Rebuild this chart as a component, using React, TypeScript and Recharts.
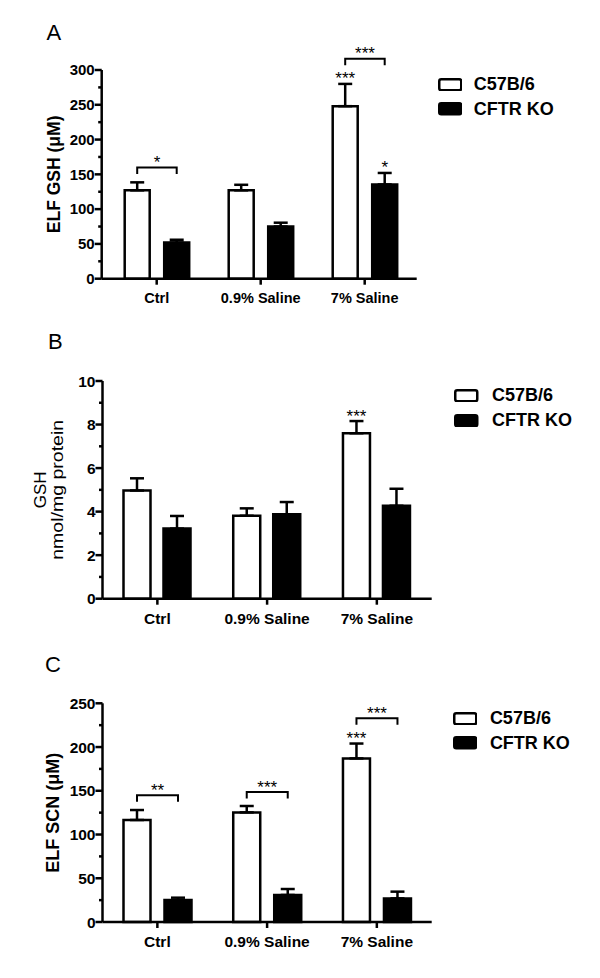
import React from 'react';
import { BarChart, Bar, XAxis, YAxis, ErrorBar, LabelList, Legend } from 'recharts';

const FONT = '"Liberation Sans", Arial, Helvetica, sans-serif';

const categories = ['Ctrl', '0.9% Saline', '7% Saline'];
const seriesNames = ['C57B/6', 'CFTR KO'];

// Panel A: ELF GSH (uM)
const elfGshWT = [127, 127, 248];
const elfGshWTSem = [11.5, 8, 32];
const elfGshKO = [52, 75, 135.5];
const elfGshKOSem = [4, 5.5, 16.5];
const elfGshWTStars = ['', '', '***'];
const elfGshKOStars = ['', '', '*'];
const elfGshBracketLevels: (number | null)[] = [160, null, 316];
const elfGshBracketStars = ['*', '', '***'];
const elfGshTicks = [0, 25, 50, 75, 100, 125, 150, 175, 200, 225, 250, 275, 300];
const elfGshMajor = [0, 50, 100, 150, 200, 250, 300];

// Panel B: GSH nmol/mg protein
const tisGshWT = [4.97, 3.81, 7.6];
const tisGshWTSem = [0.56, 0.34, 0.56];
const tisGshKO = [3.22, 3.88, 4.27];
const tisGshKOSem = [0.58, 0.56, 0.78];
const tisGshWTStars = ['', '', '***'];
const tisGshKOStars = ['', '', ''];
const tisGshBracketLevels: (number | null)[] = [null, null, null];
const tisGshBracketStars = ['', '', ''];
const tisGshTicks = [0, 1, 2, 3, 4, 5, 6, 7, 8, 9, 10];
const tisGshMajor = [0, 2, 4, 6, 8, 10];

// Panel C: ELF SCN (uM)
const elfScnWT = [116.6, 125.3, 187];
const elfScnWTSem = [11.4, 7.3, 17];
const elfScnKO = [25.1, 30.9, 27];
const elfScnKOSem = [2.7, 6.8, 7.7];
const elfScnWTStars = ['', '', '***'];
const elfScnKOStars = ['', '', ''];
const elfScnBracketLevels: (number | null)[] = [145, 148.6, 232.8];
const elfScnBracketStars = ['**', '***', '***'];
const elfScnTicks = [0, 25, 50, 75, 100, 125, 150, 175, 200, 225, 250];
const elfScnMajor = [0, 50, 100, 150, 200, 250];

type Cfg = {
  id: string;
  letter: string;
  letterX: number;
  letterY: number;
  top: number;
  height: number;
  plotLeft: number;
  plotRight: number;
  plotTop: number;
  plotBottom: number;
  xPadLeft: number;
  domain: [number, number];
  ticks: number[];
  majors: number[];
  wt: number[];
  wtSem: number[];
  ko: number[];
  koSem: number[];
  wtStars: string[];
  koStars: string[];
  bracketLevels: (number | null)[];
  bracketStars: string[];
  yLabel: string[];
  yLabelX: number[];
  yLabelLen: (number | null)[];
  yLabelBold: boolean;
  yLabelSize: number;
  tickFont: number;
  catFont: number;
  barSize: number;
  barGap: number;
  legendLeft: number;
  legendTop: number;
  legendRow: number;
  legendGap: number;
  legendFont: number;
};

const panels: Cfg[] = [
  {
    id: 'A', letter: 'A', letterX: 46.5, letterY: 40,
    top: 0, height: 320,
    plotLeft: 101.7, plotRight: 416.7, plotTop: 70, plotBottom: 278.7, xPadLeft: 3,
    domain: [0, 300], ticks: elfGshTicks, majors: elfGshMajor,
    wt: elfGshWT, wtSem: elfGshWTSem, ko: elfGshKO, koSem: elfGshKOSem,
    wtStars: elfGshWTStars, koStars: elfGshKOStars,
    bracketLevels: elfGshBracketLevels, bracketStars: elfGshBracketStars,
    yLabel: ['ELF GSH (\u03BCM)'], yLabelX: [54], yLabelLen: [null], yLabelBold: true, yLabelSize: 17.5,
    tickFont: 15, catFont: 14.5, barSize: 25, barGap: 14.5,
    legendLeft: 437.7, legendTop: 72, legendRow: 24.5, legendGap: 11.6, legendFont: 18,
  },
  {
    id: 'B', letter: 'B', letterX: 48, letterY: 28.5,
    top: 320, height: 320,
    plotLeft: 102.5, plotRight: 431.7, plotTop: 61, plotBottom: 278.7, xPadLeft: 0,
    domain: [0, 10], ticks: tisGshTicks, majors: tisGshMajor,
    wt: tisGshWT, wtSem: tisGshWTSem, ko: tisGshKO, koSem: tisGshKOSem,
    wtStars: tisGshWTStars, koStars: tisGshKOStars,
    bracketLevels: tisGshBracketLevels, bracketStars: tisGshBracketStars,
    yLabel: ['GSH', 'nmol/mg protein'], yLabelX: [39.5, 56.5], yLabelLen: [null, 140], yLabelBold: false, yLabelSize: 17,
    tickFont: 15.5, catFont: 15.5, barSize: 27, barGap: 13,
    legendLeft: 454, legendTop: 62.8, legendRow: 25, legendGap: 13.4, legendFont: 18,
  },
  {
    id: 'C', letter: 'C', letterX: 45, letterY: 31.5,
    top: 640, height: 338,
    plotLeft: 102.5, plotRight: 431.7, plotTop: 63.3, plotBottom: 282, xPadLeft: 0,
    domain: [0, 250], ticks: elfScnTicks, majors: elfScnMajor,
    wt: elfScnWT, wtSem: elfScnWTSem, ko: elfScnKO, koSem: elfScnKOSem,
    wtStars: elfScnWTStars, koStars: elfScnKOStars,
    bracketLevels: elfScnBracketLevels, bracketStars: elfScnBracketStars,
    yLabel: ['ELF SCN (\u03BCM)'], yLabelX: [53], yLabelLen: [null], yLabelBold: true, yLabelSize: 18,
    tickFont: 15.5, catFont: 15.5, barSize: 27, barGap: 14,
    legendLeft: 452.7, legendTop: 66, legendRow: 24.5, legendGap: 12.7, legendFont: 18,
  },
];

const STAR_FONT = 17;

const makeYTick = (majors: number[], fontSize: number) => (props: any) => {
  const { x, y, payload } = props;
  const v = payload.value;
  const major = majors.includes(v);
  return (
    <g>
      <line x1={x - (major ? 7 : 3.5)} x2={x} y1={y} y2={y} stroke="#000" strokeWidth={2.5} />
      {major && (
        <text x={x - 7} y={y} dy="0.355em" textAnchor="end" fontSize={fontSize} fontWeight="bold" fill="#000" fontFamily={FONT}>
          {v}
        </text>
      )}
    </g>
  );
};

const getBox = (props: any) => {
  const vb = props.viewBox && typeof props.viewBox.x === 'number' ? props.viewBox : props;
  return { x: Number(vb.x), y: Number(vb.y), width: Number(vb.width), height: Number(vb.height) };
};

const makeStarLabel = (stars: string[], sems: number[]) => (props: any) => {
  const i = props.index;
  const s = stars[i];
  if (!s) return null;
  const { x, y, width, height } = getBox(props);
  const value = Number(props.value);
  const bottom = y + height;
  const k = height / value;
  const errTop = bottom - (value + sems[i]) * k;
  return (
    <text x={x + width / 2} y={errTop + 0.5} textAnchor="middle" fontSize={STAR_FONT} fill="#000" fontFamily={FONT}>
      {s}
    </text>
  );
};

const makeBracketLabel = (levels: (number | null)[], starsArr: string[], koStars: string[], sems: number[], barGap: number) => (props: any) => {
  const i = props.index;
  const { x, y, width, height } = getBox(props);
  const value = Number(props.value);
  const bottom = y + height;
  const k = height / value;
  const items: React.ReactNode[] = [];
  const ks = koStars[i];
  if (ks) {
    const errTop = bottom - (value + sems[i]) * k;
    items.push(
      <text key="ks" x={x + width / 2} y={errTop + 0.5} textAnchor="middle" fontSize={STAR_FONT} fill="#000" fontFamily={FONT}>
        {ks}
      </text>
    );
  }
  const lvl = levels[i];
  if (lvl != null) {
    const koC = x + width / 2;
    const wtC = koC - (width + barGap);
    const by = bottom - lvl * k;
    items.push(
      <path key="br" d={`M${wtC},${by + 6.5} L${wtC},${by} L${koC},${by} L${koC},${by + 6.5}`} fill="none" stroke="#000" strokeWidth={2} />
    );
    items.push(
      <text key="bs" x={(wtC + koC) / 2} y={by + 0.5} textAnchor="middle" fontSize={STAR_FONT} fill="#000" fontFamily={FONT}>
        {starsArr[i]}
      </text>
    );
  }
  return <g>{items}</g>;
};

const makeLegend = (cfg: Cfg) => () => (
  <div style={{ fontFamily: FONT }}>
    {seriesNames.map((n, i) => (
      <div key={n} style={{ display: 'flex', alignItems: 'center', height: cfg.legendRow }}>
        <svg width={24.5} height={13.5} style={{ display: 'block', marginRight: cfg.legendGap }}>
          <rect x={1.25} y={1.25} width={22} height={11} rx={2} fill={i === 0 ? '#fff' : '#000'} stroke="#000" strokeWidth={2.5} />
        </svg>
        <span style={{ fontSize: cfg.legendFont, fontWeight: 'bold', color: '#000', lineHeight: 1 }}>{n}</span>
      </div>
    ))}
  </div>
);

const makeYLabel = (cfg: Cfg) => (props: any) => {
  const vb = props.viewBox || {};
  const cy = Number(vb.y) + Number(vb.height) / 2;
  return (
    <g>
      {cfg.yLabel.map((t, i) => {
        const len = cfg.yLabelLen[i];
        const extra: any = len ? { textLength: len, lengthAdjust: 'spacingAndGlyphs' } : {};
        return (
          <text
            key={t}
            x={cfg.yLabelX[i]}
            y={cy}
            dy="0.36em"
            transform={`rotate(-90 ${cfg.yLabelX[i]} ${cy})`}
            textAnchor="middle"
            fontSize={cfg.yLabelSize}
            fontWeight={cfg.yLabelBold ? 'bold' : 'normal'}
            fill="#000"
            fontFamily={FONT}
            {...extra}
          >
            {t}
          </text>
        );
      })}
    </g>
  );
};

function Panel({ cfg }: { cfg: Cfg }) {
  const data = categories.map((c, i) => ({
    cat: c,
    wt: cfg.wt[i],
    ko: cfg.ko[i],
    wtErr: [0, cfg.wtSem[i]],
    koErr: [0, cfg.koSem[i]],
  }));
  const margin = {
    left: cfg.plotLeft - 60,
    right: 600 - cfg.plotRight,
    top: cfg.plotTop,
    bottom: cfg.height - cfg.plotBottom - 40,
  };
  return (
    <div style={{ position: 'absolute', left: 0, top: cfg.top, width: 600, height: cfg.height }}>
      <BarChart width={600} height={cfg.height} data={data} margin={margin} barGap={cfg.barGap}>
        <XAxis
          dataKey="cat"
          height={40}
          interval={0}
          padding={{ left: cfg.xPadLeft, right: 0 }}
          tickSize={6}
          tickMargin={8}
          axisLine={{ stroke: '#000', strokeWidth: 2.5 }}
          tickLine={{ stroke: '#000', strokeWidth: 2.5 }}
          tick={{ fill: '#000', fontSize: cfg.catFont, fontWeight: 'bold', fontFamily: FONT }}
        />
        <YAxis
          width={60}
          domain={cfg.domain}
          ticks={cfg.ticks}
          interval={0}
          tickSize={0}
          tickMargin={0}
          tickLine={false}
          axisLine={{ stroke: '#000', strokeWidth: 2.5 }}
          tick={makeYTick(cfg.majors, cfg.tickFont)}
          label={makeYLabel(cfg)}
        />
        <Legend
          layout="horizontal"
          verticalAlign="middle"
          align="center"
          wrapperStyle={{ left: cfg.legendLeft, top: cfg.legendTop, width: 'auto' }}
          content={makeLegend(cfg)}
        />
        <Bar dataKey="wt" name={seriesNames[0]} fill="#fff" stroke="#000" strokeWidth={2.5} barSize={cfg.barSize} isAnimationActive={false}>
          <ErrorBar dataKey="wtErr" width={7} stroke="#000" strokeWidth={2.5} direction="y" />
          <LabelList dataKey="wt" content={makeStarLabel(cfg.wtStars, cfg.wtSem)} />
        </Bar>
        <Bar dataKey="ko" name={seriesNames[1]} fill="#000" stroke="#000" strokeWidth={2.5} barSize={cfg.barSize} isAnimationActive={false}>
          <ErrorBar dataKey="koErr" width={7} stroke="#000" strokeWidth={2.5} direction="y" />
          <LabelList
            dataKey="ko"
            content={makeBracketLabel(cfg.bracketLevels, cfg.bracketStars, cfg.koStars, cfg.koSem, cfg.barGap)}
          />
        </Bar>
      </BarChart>
      <svg width={80} height={60} style={{ position: 'absolute', left: 0, top: 0, pointerEvents: 'none' }}>
        <text x={cfg.letterX} y={cfg.letterY} fontSize={22} fill="#000" fontFamily={FONT}>
          {cfg.letter}
        </text>
      </svg>
    </div>
  );
}

export default function App() {
  return (
    <div style={{ position: 'absolute', left: 0, top: 0, width: 600, height: 978, background: '#fff', fontFamily: FONT }}>
      {panels.map((p) => (
        <Panel key={p.id} cfg={p} />
      ))}
    </div>
  );
}
